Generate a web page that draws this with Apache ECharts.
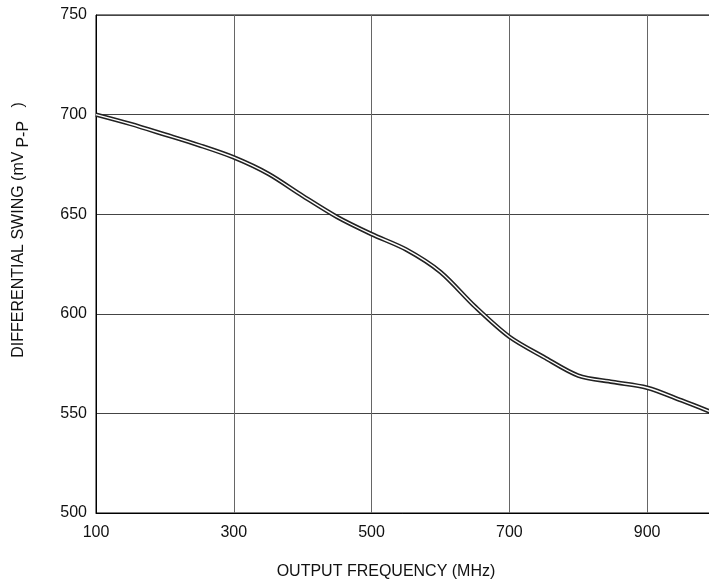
<!DOCTYPE html>
<html>
<head>
<meta charset="utf-8">
<script src="https://cdn.jsdelivr.net/npm/echarts@6/dist/echarts.min.js"></script>
<style>
  html, body { margin: 0; padding: 0; background: #fff; }
  #chart { width: 709px; height: 584px; }
</style>
</head>
<body>
<div id="chart"></div>
<script>
// output frequency (MHz) and differential swing (mVp-p)
const freqs = [100, 150, 200, 250, 300, 350, 400, 450, 500, 550, 600, 650, 700, 750, 800, 850, 900, 950, 1000]
const swing = [700, 695.3, 690, 684.6, 678.5, 670.3, 659.2, 648.6, 640, 632.3, 621, 603.7, 588.5, 578.3, 569, 565.8, 562.9, 556.5, 549.7]

const points = freqs.map((f, i) => [f, swing[i]])
const font = 'Liberation Sans, Arial, sans-serif'

const chartInstance = echarts.init(document.getElementById('chart'))

const options = {
    animation: false,
    grid: {
        left: 96,
        top: 15,
        width: 620,
        height: 498,
        outerBoundsMode: 'none',
        show: true,
        borderColor: '#000',
        borderWidth: 1,
    },
    xAxis: {
        type: 'value',
        min: 100,
        max: 1000,
        interval: 200,
        name: 'OUTPUT FREQUENCY (MHz)',
        nameLocation: 'middle',
        nameGap: 51,
        nameTextStyle: {
            fontFamily: font,
            fontSize: 16,
            color: '#111',
            padding: [0, 40, 0, 0]
        },
        axisLine: { show: true, lineStyle: { color: '#000', width: 1 } },
        axisTick: { show: false },
        axisLabel: {
            fontFamily: font,
            fontSize: 16,
            color: '#111',
            margin: 12,
            showMaxLabel: false
        },
        splitLine: { show: true, lineStyle: { color: '#666', width: 1 } },
    },
    yAxis: {
        type: 'value',
        min: 500,
        max: 750,
        interval: 50,
        name: 'DIFFERENTIAL SWING (mV{sub|P-P}   )',
        nameLocation: 'middle',
        nameRotate: 90,
        nameGap: 64,
        nameTextStyle: {
            fontFamily: font,
            fontSize: 16,
            color: '#111',
            padding: [0, 0, 0, 68],
            rich: {
                sub: {
                    fontFamily: font,
                    fontSize: 16,
                    color: '#111',
                    padding: [10, 0, 0, 4]
                }
            }
        },
        axisLine: { show: true, lineStyle: { color: '#000', width: 1 } },
        axisTick: { show: false },
        axisLabel: {
            fontFamily: font,
            fontSize: 16,
            color: '#111',
            margin: 9
        },
        splitLine: { show: true, lineStyle: { color: '#444', width: 1 } },
    },
    series: [
        {
            type: 'line',
            data: points,
            smooth: 0.3,
            showSymbol: false,
            clip: true,
            lineStyle: { color: '#222', width: 4.5 },
        },
        {
            type: 'line',
            data: points,
            smooth: 0.3,
            showSymbol: false,
            clip: true,
            lineStyle: { color: '#fff', width: 1.4 },
        }
    ],
}

chartInstance.setOption(options)
</script>
</body>
</html>
